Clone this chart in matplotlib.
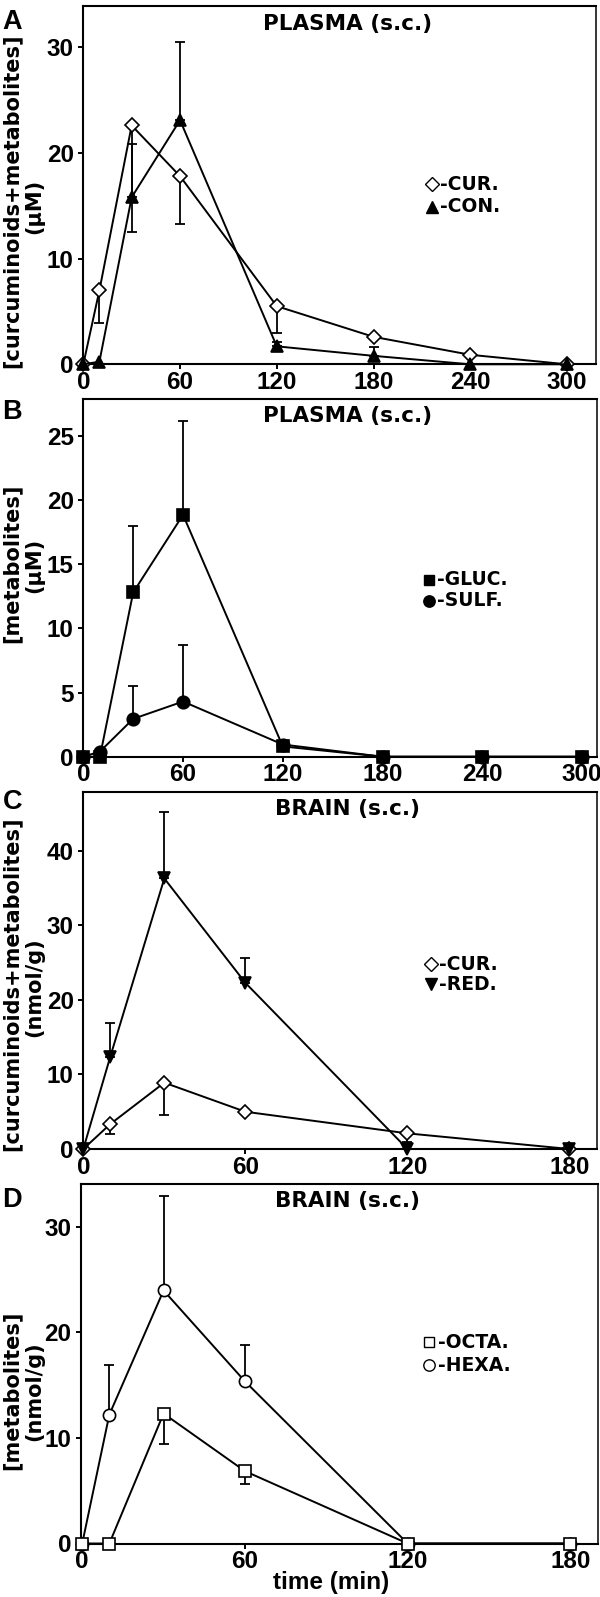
import matplotlib
matplotlib.use("Agg")
import matplotlib.pyplot as plt

# ---------------- data ----------------
time_plasma = [0, 10, 30, 60, 120, 180, 240, 300]
time_brain = [0, 10, 30, 60, 120, 180]

# Panel A (plasma, uM)
a_cur = [0.0, 7.0, 22.6, 17.8, 5.5, 2.6, 0.9, 0.0]
a_cur_err_low = [0.0, 3.1, 10.05, 4.55, 2.5, 0.0, 0.0, 0.0]
a_con = [0.0, 0.25, 15.8, 23.1, 1.7, 0.8, 0.0, 0.0]
a_con_err_up = [0.0, 0.0, 5.05, 7.4, 0.4, 0.8, 0.0, 0.0]

# Panel B (plasma metabolites, uM)
b_gluc = [0.0, 0.0, 12.8, 18.85, 0.8, 0.0, 0.0, 0.0]
b_gluc_err_up = [0.0, 0.0, 5.2, 7.35, 0.0, 0.0, 0.0, 0.0]
b_sulf = [0.0, 0.4, 2.95, 4.3, 0.95, 0.0, 0.0, 0.0]
b_sulf_err_up = [0.0, 0.0, 2.55, 4.4, 0.0, 0.0, 0.0, 0.0]

# Panel C (brain, nmol/g)
c_cur = [0.0, 3.35, 8.9, 5.0, 2.1, 0.0]
c_cur_err_low = [0.0, 1.35, 4.35, 0.0, 1.1, 0.0]
c_red = [0.0, 12.4, 36.3, 22.3, 0.0, 0.0]
c_red_err_up = [0.0, 4.45, 8.9, 3.35, 0.0, 0.0]

# Panel D (brain metabolites, nmol/g)
d_hexa = [0.0, 12.2, 23.95, 15.35, 0.0, 0.0]
d_hexa_err_up = [0.0, 4.65, 8.95, 3.4, 0.0, 0.0]
d_octa = [0.0, 0.0, 12.3, 6.85, 0.0, 0.0]
d_octa_err_low = [0.0, 0.0, 2.9, 1.25, 0.0, 0.0]

xticks_plasma = [0, 60, 120, 180, 240, 300]
xticks_brain = [0, 60, 120, 180]

# ---------------- figure ----------------
W, H = 600, 1597
fig = plt.figure(figsize=(W / 100, H / 100), dpi=100)
plt.rcParams['font.family'] = ['Liberation Sans', 'DejaVu Sans']

TICKFONT = dict(family=['Liberation Sans', 'DejaVu Sans'], weight='bold', size=17.5)
LABFONT = ['DejaVu Sans']


def px_axes(top, bottom, left, right):
    return fig.add_axes([left / W, 1 - bottom / H, (right - left) / W, (bottom - top) / H])


def fx(x):
    return x / W


def fy(y):
    return 1 - y / H


def style_axes(ax, xlim, ylim, xticks, yticks):
    ax.set_xlim(*xlim)
    ax.set_ylim(*ylim)
    ax.set_xticks(xticks)
    ax.set_yticks(yticks)
    ax.set_xticklabels([str(t) for t in xticks], **TICKFONT)
    ax.set_yticklabels([str(t) for t in yticks], **TICKFONT)
    ax.tick_params(direction='out', length=3.6, width=1.4, color='black')
    ax.tick_params(axis='y', pad=3.2)
    ax.tick_params(axis='x', pad=1.2)
    for side in ['left', 'bottom', 'top']:
        ax.spines[side].set_linewidth(1.5)
    ax.spines['right'].set_linewidth(1.1)


def series(ax, x, y, marker, ms, filled, err_low=None, err_up=None, z=3):
    # error bars (one-sided), only where non-zero
    if err_low is not None:
        idx = [i for i, e in enumerate(err_low) if e > 0]
        ax.errorbar([x[i] for i in idx], [y[i] for i in idx],
                    yerr=[[err_low[i] for i in idx], [0] * len(idx)],
                    fmt='none', ecolor='black', elinewidth=1.3, capsize=3.6,
                    capthick=1.3, zorder=z - 0.5, clip_on=False)
    if err_up is not None:
        idx = [i for i, e in enumerate(err_up) if e > 0]
        ax.errorbar([x[i] for i in idx], [y[i] for i in idx],
                    yerr=[[0] * len(idx), [err_up[i] for i in idx]],
                    fmt='none', ecolor='black', elinewidth=1.3, capsize=3.6,
                    capthick=1.3, zorder=z - 0.5, clip_on=False)
    ax.plot(x, y, color='black', lw=1.4, marker=marker, ms=ms,
            mfc='black' if filled else 'white', mec='black',
            mew=1.2, zorder=z, clip_on=False)


def legend_entry(ax, xa, ya, marker, ms, filled, label):
    ax.plot([xa], [ya], transform=ax.transAxes, marker=marker, ms=ms,
            mfc='black' if filled else 'white', mec='black', mew=1.0,
            ls='none', clip_on=False)
    ax.text(xa + 0.016, ya, label, transform=ax.transAxes, ha='left', va='center',
            family=LABFONT, weight='bold', size=13.5)


# ---------------- Panel A ----------------
axA = px_axes(6, 364.3, 83.3, 596)
series(axA, time_plasma, a_cur, 'D', 7.6, False, err_low=a_cur_err_low, z=3)
series(axA, time_plasma, a_con, '^', 8.6, True, err_up=a_con_err_up, z=4)
style_axes(axA, (0, 318), (0, 33.9), xticks_plasma, [0, 10, 20, 30])
legend_entry(axA, 0.68, 0.502, 'D', 7.2, False, '-CUR.')
legend_entry(axA, 0.68, 0.44, '^', 8.6, True, '-CON.')

# ---------------- Panel B ----------------
axB = px_axes(398.7, 756.7, 83.3, 597)
series(axB, time_plasma, b_sulf, 'o', 9.0, True, err_up=b_sulf_err_up, z=3)
series(axB, time_plasma, b_gluc, 's', 8.4, True, err_up=b_gluc_err_up, z=4)
style_axes(axB, (0, 309), (0, 27.9), xticks_plasma, [0, 5, 10, 15, 20, 25])
legend_entry(axB, 0.673, 0.494, 's', 7.6, True, '-GLUC.')
legend_entry(axB, 0.673, 0.435, 'o', 8.2, True, '-SULF.')

# ---------------- Panel C ----------------
axC = px_axes(792, 1149, 83.3, 597)
series(axC, time_brain, c_cur, 'D', 7.6, False, err_low=c_cur_err_low, z=3)
series(axC, time_brain, c_red, 'v', 8.8, True, err_up=c_red_err_up, z=4)
style_axes(axC, (0, 190.2), (0, 47.9), xticks_brain, [0, 10, 20, 30, 40])
legend_entry(axC, 0.677, 0.517, 'D', 7.2, False, '-CUR.')
legend_entry(axC, 0.677, 0.462, 'v', 8.6, True, '-RED.')

# ---------------- Panel D ----------------
axD = px_axes(1184.3, 1543.5, 80.6, 598)
series(axD, time_brain, d_hexa, 'o', 8.8, False, err_up=d_hexa_err_up, z=3)
series(axD, time_brain, d_octa, 's', 8.0, False, err_low=d_octa_err_low, z=4)
style_axes(axD, (-0.6, 190.2), (0, 34.0), xticks_brain, [0, 10, 20, 30])
legend_entry(axD, 0.674, 0.56, 's', 7.6, False, '-OCTA.')
legend_entry(axD, 0.674, 0.496, 'o', 8.2, False, '-HEXA.')

# ---------------- text ----------------
for letter, y in [('A', 9.0), ('B', 399.0), ('C', 789.5), ('D', 1187.0)]:
    fig.text(fx(2.5), fy(y), letter, ha='left', va='top',
             family=['Liberation Sans'], weight='bold', size=19.5)

for title, y in [('PLASMA (s.c.)', 14.0), ('PLASMA (s.c.)', 406.0),
                 ('BRAIN (s.c.)', 799.5), ('BRAIN (s.c.)', 1191.0)]:
    fig.text(fx(347.5), fy(y), title, ha='center', va='top',
             family=LABFONT, weight='bold', size=15.5)

ylabels = [
    ('[curcuminoids+metabolites]', '(\u00b5M)', 201, 206),
    ('[metabolites]', '(\u00b5M)', 563, 565),
    ('[curcuminoids+metabolites]', '(nmol/g)', 984, 987),
    ('[metabolites]', '(nmol/g)', 1390, 1391),
]
for l1, l2, y1, y2 in ylabels:
    fig.text(fx(12), fy(y1), l1, rotation=90, ha='center', va='center',
             family=LABFONT, weight='bold', size=15)
    fig.text(fx(34), fy(y2), l2, rotation=90, ha='center', va='center',
             family=LABFONT, weight='bold', size=15)

fig.text(fx(331.5), fy(1583), 'time (min)', ha='center', va='center',
         family=['Liberation Sans'], weight='bold', size=17.5)

fig.savefig('out.png', dpi=100)
